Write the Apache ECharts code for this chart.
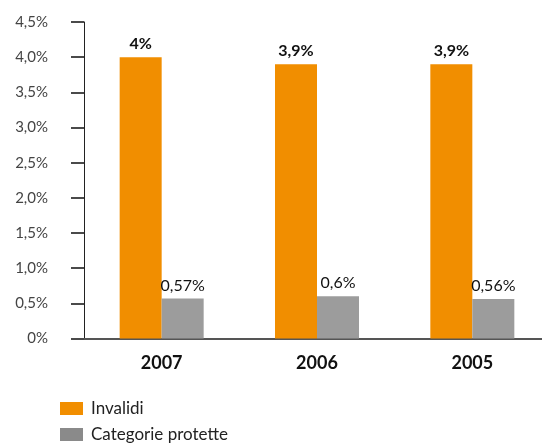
<!DOCTYPE html>
<html>
<head>
<meta charset="utf-8">
<script src="https://cdn.jsdelivr.net/npm/echarts@6/dist/echarts.min.js"></script>
<style>
  html, body { margin: 0; padding: 0; background: #fff; }
  #chart { width: 542px; height: 446px; }
</style>
</head>
<body>
<div id="chart"></div>
<script>
// Anni e quote percentuali per categoria
const years = ['2007', '2006', '2005'];
const invalidi = [4, 3.9, 3.9];
const categorieProtette = [0.57, 0.6, 0.56];
const yTicks = [0, 0.5, 1, 1.5, 2, 2.5, 3, 3.5, 4, 4.5];

const FONT = 'Lato, "Open Sans", sans-serif';
const ORANGE = '#F18E00';
const GREY = '#9C9C9C';

function pct(v, decimals) {
  if (v === 0) return '0%';
  return v.toFixed(decimals).replace('.', ',') + '%';
}
function pctLabel(v) {
  return String(v).replace('.', ',') + '%';
}

const legendText = { fontFamily: FONT, fontSize: 17, color: '#222', padding: [0, 0, 0, 3] };

const chart = echarts.init(document.getElementById('chart'), null, { renderer: 'canvas' });
chart.setOption({
  animation: false,
  backgroundColor: '#fff',
  grid: {
    left: 84, top: 22, width: 466, height: 316.5,
    containLabel: false,
    outerBoundsMode: 'none'
  },
  legend: [
    {
      left: 60, top: 400, itemWidth: 23, itemHeight: 13, icon: 'rect', padding: 0,
      textStyle: legendText,
      data: [{ name: 'Invalidi', itemStyle: { color: ORANGE } }]
    },
    {
      left: 60, top: 426, itemWidth: 23, itemHeight: 13, icon: 'rect', padding: 0,
      textStyle: legendText,
      data: [{ name: 'Categorie protette', itemStyle: { color: '#8A8A8A' } }]
    }
  ],
  xAxis: {
    type: 'category',
    data: years,
    axisLine: { show: true, lineStyle: { color: '#555', width: 2 } },
    axisTick: { show: false },
    axisLabel: {
      margin: 16,
      fontFamily: FONT,
      fontSize: 18,
      fontWeight: 'bold',
      color: '#111'
    }
  },
  yAxis: {
    type: 'value',
    min: 0,
    max: 4.5,
    interval: 0.5,
    splitLine: { show: false },
    axisLine: { show: true, lineStyle: { color: '#222', width: 1 } },
    axisTick: { show: true, length: 13, lineStyle: { color: '#4a4a4a', width: 2 } },
    axisLabel: {
      margin: 36,
      fontFamily: FONT,
      fontSize: 15,
      color: '#444',
      formatter: function (v) {
        return yTicks.indexOf(v) >= 0 ? pct(v, 1) : '';
      }
    }
  },
  series: [
    {
      name: 'Invalidi',
      type: 'bar',
      data: invalidi,
      barWidth: 42,
      barGap: '0%',
      itemStyle: { color: ORANGE },
      label: {
        show: true,
        position: 'top',
        distance: 5,
        fontFamily: FONT,
        fontSize: 16,
        fontWeight: 'bold',
        color: '#111',
        formatter: function (p) { return pctLabel(p.value); }
      }
    },
    {
      name: 'Categorie protette',
      type: 'bar',
      data: categorieProtette,
      barWidth: 42,
      barGap: '0%',
      itemStyle: { color: GREY },
      label: {
        show: true,
        position: 'top',
        distance: 5,
        fontFamily: FONT,
        fontSize: 16,
        color: '#111',
        formatter: function (p) { return pctLabel(p.value); }
      }
    }
  ]
});
</script>
</body>
</html>
